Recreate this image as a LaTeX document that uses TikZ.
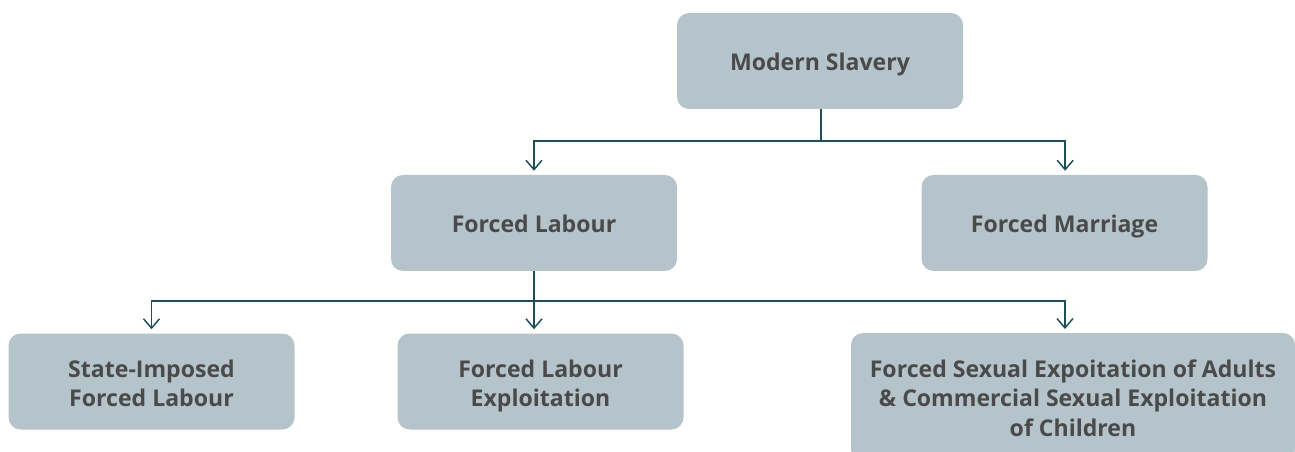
\documentclass[tikz,border=0pt]{standalone}
\usepackage{fontspec}
\setmainfont{Open Sans}
\usetikzlibrary{arrows.meta}
\definecolor{boxfill}{HTML}{B5C4CB}
\definecolor{linecol}{HTML}{1F4E5A}
\definecolor{textcol}{HTML}{4A4A4A}
\tikzset{
  boxtext/.style={text=textcol, align=center, font=\fontsize{17.3}{22}\selectfont\bfseries},
  box/.style={boxtext, fill=boxfill, rounded corners=9pt, minimum width=214.5pt, minimum height=72pt, inner sep=0pt},
  oneline/.style={text height=14pt, text depth=0pt},
  conn/.style={draw=linecol, line width=1.1pt},
  arr/.style={conn, -{Straight Barb[length=7pt, width=12pt, line width=1.1pt]}}
}
\begin{document}
\begin{tikzpicture}[x=0.75pt, y=-0.75pt]
\useasboundingbox (0,0) rectangle (1295,452);
\begin{scope}
\clip (0,0) rectangle (1295,452);
\node[box, oneline] (ms) at (820,61) {Modern Slavery};
\node[box, oneline] (fl) at (534,223) {Forced Labour};
\node[box, oneline] (fm) at (1064.5,223) {Forced Marriage};
\node[box] (si) at (151.5,381.5) {};
\node[boxtext] (sit) at (151.5,383.5) {State-Imposed\\Forced Labour};
\node[box] (fle) at (540.5,381.5) {};
\node[boxtext] (flet) at (540.5,386) {Forced Labour\\Exploitation};
\node[box, minimum width=333pt, minimum height=96pt] (fs) at (1073,397) {};
\node[boxtext] (fst) at (1073,398) {Forced Sexual Expoitation of Adults\\\& Commercial Sexual Exploitation\\of Children};
\end{scope}
\coordinate (j1) at (821,141);
\coordinate (j2) at (534,301);
\draw[conn] (ms.south -| j1) -- (j1);
\draw[arr] (j1) -| ([yshift=3pt]fl.north);
\draw[arr] (j1) -| ([xshift=0.5pt,yshift=3pt]fm.north);
\draw[arr] (fl.south) -- ([yshift=3pt]fl.south |- si.north);
\draw[arr] (j2) -| ([yshift=3pt]si.north);
\draw[arr] (j2) -| ([yshift=3pt]1065,333);
\end{tikzpicture}
\end{document}
